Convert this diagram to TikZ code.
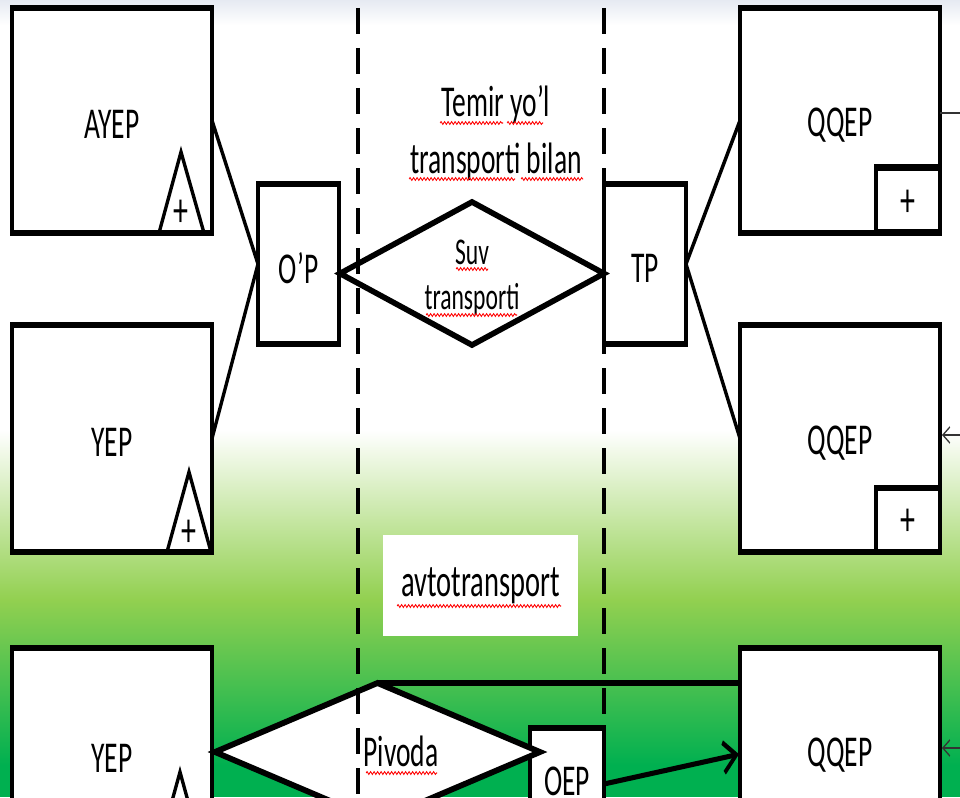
\documentclass[tikz,border=0pt]{standalone}
\usepackage{fontspec}
\setmainfont{Carlito}
\newfontfamily\cf{Carlito}
\usetikzlibrary{shapes.geometric,arrows.meta,decorations.pathmorphing}
\definecolor{gA}{HTML}{92D050}
\definecolor{gB}{HTML}{00B050}
\definecolor{topgray}{HTML}{E6EAF2}
\newcommand{\bxt}[2][-2.6pt]{\vphantom{#2}\smash{\raisebox{#1}{#2}}}
\tikzset{
  box/.style={draw, line width=3.8pt, fill=white, rectangle, inner sep=0pt, outer sep=0pt, font=\cf\fontsize{27.5}{30}\selectfont},
  conn/.style={line width=3.2pt},
  sep/.style={dash pattern=on 16.5pt off 8.5pt, line width=3.2pt},
  squig/.style={red, line width=0.7pt, decorate, decoration={snake, amplitude=0.9pt, segment length=3.5pt}},
  lbl/.style={font=\cf\fontsize{27.5}{35.6}\selectfont, inner sep=0pt, align=center},
  small/.style={font=\cf\fontsize{23.6}{28}\selectfont, inner sep=0pt, align=center},
  plus/.style={font=\cf\fontsize{30}{30}\selectfont, inner sep=0pt},
  dia/.style={draw, diamond, line width=3.8pt, fill=white, inner sep=0pt, outer sep=0pt},
  tri/.style={line width=3.2pt, line join=miter},
  stub/.style={line width=1pt, draw=black!80},
}
\begin{document}
\begin{tikzpicture}[x=1pt,y=-1pt]
\useasboundingbox (0,0) rectangle (960,797);
\clip (0,0) rectangle (960,797);
% background
\fill[white] (0,0) rectangle (960,797);
\shade[top color=topgray, bottom color=white] (0,0) rectangle (960,25);
\shade[top color=white, bottom color=gA] (0,430) rectangle (960,600);
\shade[top color=gA, bottom color=gB] (0,600) rectangle (960,765);
\fill[gB] (0,765) rectangle (960,797);

\begin{scope}[x=1pt, y=-0.625pt, transform canvas={yscale=1.6}]
% boxes
\node[box, minimum width=200, minimum height=140.6] (ayep) at (112,120.5) {\bxt{AYEP}};
\node[box, minimum width=200, minimum height=141.9] (yep1) at (112,438.5) {\bxt{YEP}};
\node[box, minimum width=81, minimum height=100] (op) at (298.5,264) {\bxt{O’P}};
\node[box, minimum width=82, minimum height=100] (tp) at (645,264) {\bxt{TP}};
\node[box, minimum width=200, minimum height=140.6] (qqep1) at (840,120.5) {\bxt{QQEP}};
\node[box, minimum width=200, minimum height=141.9] (qqep2) at (840,438.5) {\bxt{QQEP}};
\node[box, minimum width=200, minimum height=132.5] (yep3) at (112,754) {\bxt{YEP}};
\node[box, minimum width=200, minimum height=132.5] (qqep3) at (840,754) {\bxt[-0.8pt]{QQEP}};
\node[box, minimum width=74, minimum height=70] (oep) at (567,784) {\bxt[1.5pt]{OEP}};

% connectors
\draw[conn] (ayep.east) -- (op.west);
\draw[conn] (yep1.east) -- (op.west);
\draw[conn] (tp.east) -- (qqep1.west);
\draw[conn] (tp.east) -- (qqep2.west);

% small + boxes
\node[box, minimum width=64, minimum height=40.6] (sq1) at (908,200) {};
\node[plus] (p3) at (908,203) {+};
\node[box, minimum width=64, minimum height=40] (sq2) at (908,520) {};
\node[plus] (p4) at (908,522) {+};

% triangles
\draw[tri] (159,233) -- (181,152) -- (204,233);
\node[plus] (p1) at (181,213) {+};
\draw[tri] (167,552) -- (189,472) -- (211,552);
\node[plus] (p2) at (189,533) {+};
\draw[tri] (158,852) -- (180,772) -- (202,852);

% diamonds
\node[dia, minimum width=264, minimum height=89.4] (dia1) at (472,273.5) {};
\node[small] (suv) at (472,278) {Suv\\transporti};
\node[dia, minimum width=325, minimum height=86.25] (dia2) at (377.5,752) {};
\node[lbl] (piv) at (401,751) {Pivoda};

\draw[conn] (dia2.north) -- (dia2.north -| qqep3.west);
\draw[conn, -{Straight Barb[length=13pt, width=19pt]}, shorten >=1pt] (oep.east) -- (qqep3.west);

% labels
\node[lbl] (temir) at (496,133) {Temir yo’l\\transporti bilan};
\node[fill=white, minimum width=195, minimum height=63.1, inner sep=0pt, font=\cf\fontsize{28.5}{30}\selectfont] (avto) at (480.5,585.5) {avtotransport};

% stubs on the right
\coordinate (r1) at (960,113);
\draw[stub] (qqep1.east |- r1) -- (r1);
\coordinate (r2) at (960,435);
\draw[stub, -{Straight Barb[length=7pt, width=10pt]}, shorten >=2pt] (r2) -- (r2 -| qqep2.east);
\coordinate (r3) at (960,748);
\draw[stub, -{Straight Barb[length=7pt, width=10pt]}, shorten >=2pt] (r3) -- (r3 -| qqep3.east);

% dashed separators
\draw[sep] (358,8) -- (358,800);
\draw[sep] (604,8) -- (604,800);

% spell-check squiggles
\draw[squig] (440,123) -- (503,123);
\draw[squig] (507,123) -- (543,123);
\draw[squig] (409,179) -- (515,179);
\draw[squig] (521,179) -- (583,179);
\draw[squig] (456,269) -- (488,269);
\draw[squig] (426,315) -- (517,315);
\draw[squig] (397,606) -- (561,606);
\draw[squig] (366,773) -- (437,773);
\end{scope}
\end{tikzpicture}
\end{document}
